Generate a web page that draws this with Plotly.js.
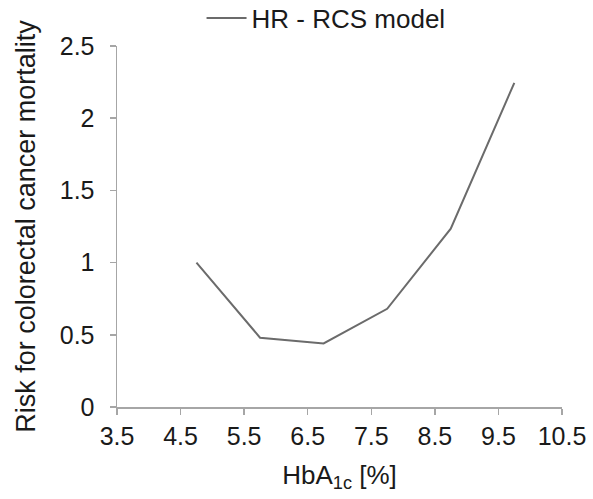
<!DOCTYPE html>
<html>
<head>
<meta charset="utf-8">
<script src="https://cdn.plot.ly/plotly-3.0.1.min.js"></script>
<style>html,body{margin:0;padding:0;background:#fff;}#chart{width:593px;height:499px;}</style>
</head>
<body>
<div id="chart"></div>
<script>
const hba1c = [4.75, 5.75, 6.75, 7.75, 8.75, 9.75];
const hrRcs = [1.0, 0.48, 0.44, 0.68, 1.235, 2.245];
const seriesName = "HR - RCS model";
const xTicks = [3.5, 4.5, 5.5, 6.5, 7.5, 8.5, 9.5, 10.5];
const yTicks = [0, 0.5, 1, 1.5, 2, 2.5];

const font = "Liberation Sans, Arial, sans-serif";
const axisColor = "#a6a6a6";
const textColor = "#1a1a1a";

Plotly.newPlot("chart", [{
  x: hba1c, y: hrRcs, name: seriesName, type: "scatter", mode: "lines",
  line: {color: "#6b6b6b", width: 2}
}], {
  width: 593, height: 499,
  margin: {l: 117, r: 31, t: 46, b: 92, autoexpand: false},
  paper_bgcolor: "#fff", plot_bgcolor: "#fff",
  font: {family: font, size: 25, color: textColor},
  showlegend: true,
  legend: {orientation: "h", x: 0.19, xanchor: "left", y: 1.012, yanchor: "bottom",
           font: {family: font, size: 26, color: textColor}, itemwidth: 40,
           bgcolor: "rgba(0,0,0,0)"},
  xaxis: {
    range: [3.5, 10.5], tickvals: xTicks, ticktext: xTicks.map(v => v.toFixed(1)),
    showgrid: false, zeroline: false, showline: true, linecolor: axisColor, linewidth: 1.5,
    ticks: "outside", ticklen: 6, tickcolor: axisColor, tickwidth: 1.5,
    tickfont: {family: font, size: 25, color: textColor},
    title: {text: "HbA<sub>1c</sub> [%]", font: {family: font, size: 26, color: textColor}, standoff: 17}
  },
  yaxis: {
    range: [0, 2.5], tickvals: yTicks, ticktext: yTicks.map(String),
    showgrid: false, zeroline: false, showline: true, linecolor: axisColor, linewidth: 1.5,
    ticks: "outside", ticklen: 6, tickcolor: axisColor, tickwidth: 1.5, ticklabelstandoff: 10,
    tickfont: {family: font, size: 25, color: textColor},
    title: {text: "Risk for colorectal cancer mortality", font: {family: font, size: 27, color: textColor}, standoff: 16}
  }
}, {displayModeBar: false, staticPlot: true});
</script>
</body>
</html>
